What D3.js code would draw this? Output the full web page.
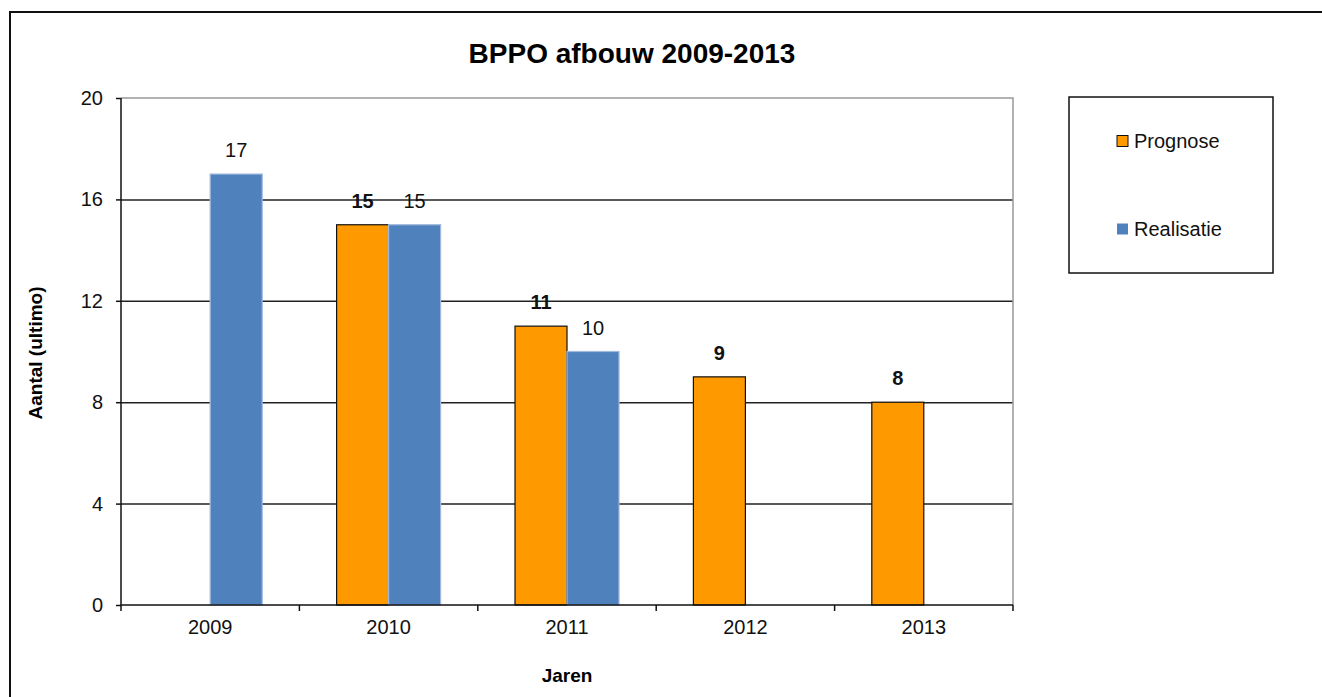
<!DOCTYPE html>
<html>
<head>
<meta charset="utf-8">
<script src="https://cdn.jsdelivr.net/npm/d3@7"></script>
<style>
    body { margin: 0; background: #fff; }
    svg { display: block; font-family: "Liberation Sans", Arial, sans-serif; }
    .axis path { display: none; }
    .axis text { font-size: 20px; fill: #111; }
    .grid line { stroke: #222; stroke-width: 1.5; }
    .grid path { display: none; }
</style>
</head>
<body>
<svg width="1322" height="697"></svg>
<script>
// Chart data
const years = ["2009", "2010", "2011", "2012", "2013"];
const seriesNames = ["Prognose", "Realisatie"];
const prognose = [null, 15, 11, 9, 8];
const realisatie = [17, 15, 10, null, null];
const yTicks = [0, 4, 8, 12, 16, 20];

const colors = { Prognose: "#FF9900", Realisatie: "#4F81BD" };

const svg = d3.select("svg");

// Outer chart border (runs off the right and bottom edge)
svg.append("path")
    .attr("d", "M10,700 L10,12 L1330,12")
    .attr("fill", "none")
    .attr("stroke", "#111")
    .attr("stroke-width", 2);

const plotLeft = 121, plotRight = 1013, plotTop = 98, plotBottom = 605;

const x = d3.scaleBand().domain(years).range([plotLeft, plotRight]);
const barW = 52;
const xSub = d3.scaleBand().domain(seriesNames)
    .range([x.bandwidth() / 2 - barW, x.bandwidth() / 2 + barW]);
const y = d3.scaleLinear().domain([0, 20]).range([plotBottom, plotTop]);

// Title
svg.append("text")
    .attr("x", 632).attr("y", 63)
    .attr("text-anchor", "middle")
    .attr("font-size", 28).attr("font-weight", "bold")
    .text("BPPO afbouw 2009-2013");

// Gridlines
svg.append("g")
    .attr("class", "grid")
    .attr("transform", `translate(${plotLeft},0)`)
    .call(d3.axisLeft(y).tickValues(yTicks.filter(d => d > 0 && d < 20)).tickSize(-(plotRight - plotLeft)).tickFormat(""));

// Plot area border (gray)
svg.append("path")
    .attr("d", `M${plotLeft},${plotTop} L${plotRight},${plotTop} L${plotRight},${plotBottom}`)
    .attr("fill", "none")
    .attr("stroke", "#999")
    .attr("stroke-width", 1.5);

// Bars
const rows = years.map((yr, i) => ({ year: yr, Prognose: prognose[i], Realisatie: realisatie[i] }));

seriesNames.forEach(name => {
    const data = rows.filter(r => r[name] != null);
    svg.append("g").selectAll("rect")
        .data(data)
        .join("rect")
        .attr("x", d => x(d.year) + xSub(name))
        .attr("y", d => y(d[name]))
        .attr("width", xSub.bandwidth())
        .attr("height", d => plotBottom - y(d[name]))
        .attr("fill", colors[name])
        .attr("stroke", name === "Prognose" ? "#111" : "#9fb8dc")
        .attr("stroke-width", 1.2);

    svg.append("g").selectAll("text")
        .data(data)
        .join("text")
        .attr("x", d => x(d.year) + xSub(name) + xSub.bandwidth() / 2)
        .attr("y", d => y(d[name]) - 17)
        .attr("text-anchor", "middle")
        .attr("font-size", 20)
        .attr("font-weight", name === "Prognose" ? "bold" : "normal")
        .attr("fill", "#111")
        .text(d => d[name]);
});

// Y axis
const yAxis = svg.append("g")
    .attr("class", "axis")
    .attr("transform", `translate(${plotLeft},0)`)
    .call(d3.axisLeft(y).tickValues(yTicks).tickSize(5).tickPadding(13));
yAxis.selectAll("line").attr("stroke", "#111").attr("stroke-width", 1.5);
svg.append("line")
    .attr("x1", plotLeft).attr("x2", plotLeft).attr("y1", plotTop).attr("y2", plotBottom)
    .attr("stroke", "#111").attr("stroke-width", 1.5);

// X axis
const xAxis = svg.append("g")
    .attr("class", "axis")
    .attr("transform", `translate(0,${plotBottom})`)
    .call(d3.axisBottom(x).tickSize(0).tickPadding(15));
xAxis.selectAll("text").attr("dy", "0.71em");
svg.append("line")
    .attr("x1", plotLeft).attr("x2", plotRight).attr("y1", plotBottom).attr("y2", plotBottom)
    .attr("stroke", "#111").attr("stroke-width", 1.5);
const edges = years.map(d => x(d)).concat([plotRight]);
svg.append("g").selectAll("line")
    .data(edges)
    .join("line")
    .attr("x1", d => d).attr("x2", d => d)
    .attr("y1", plotBottom).attr("y2", plotBottom + 6)
    .attr("stroke", "#111").attr("stroke-width", 1.5);

// Axis titles
svg.append("text")
    .attr("x", (plotLeft + plotRight) / 2).attr("y", 682)
    .attr("text-anchor", "middle")
    .attr("font-size", 19).attr("font-weight", "bold")
    .text("Jaren");

svg.append("text")
    .attr("transform", "translate(42,353) rotate(-90)")
    .attr("text-anchor", "middle")
    .attr("font-size", 19).attr("font-weight", "bold")
    .text("Aantal (ultimo)");

// Legend
const legend = svg.append("g");
legend.append("rect")
    .attr("x", 1069).attr("y", 97)
    .attr("width", 204).attr("height", 176)
    .attr("fill", "#fff")
    .attr("stroke", "#111").attr("stroke-width", 1.5);

const legendY = d3.scalePoint().domain(seriesNames).range([141, 229]);
seriesNames.forEach(name => {
    legend.append("rect")
        .attr("x", 1117).attr("y", legendY(name) - 5.5)
        .attr("width", 11).attr("height", 11)
        .attr("fill", colors[name])
        .attr("stroke", name === "Prognose" ? "#111" : "none");
    legend.append("text")
        .attr("x", 1134).attr("y", legendY(name))
        .attr("dy", "0.36em")
        .attr("font-size", 20)
        .attr("fill", "#111")
        .text(name);
});
</script>
</body>
</html>
